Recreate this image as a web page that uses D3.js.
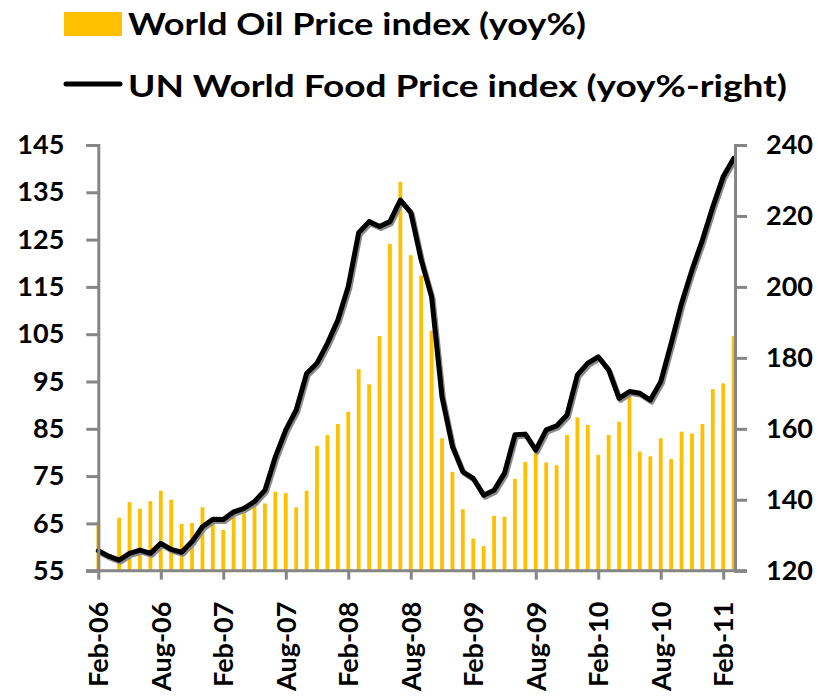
<!DOCTYPE html>
<html lang="en">
  <head>
    <meta charset="utf-8" />
    <title>Oil vs food prices</title>
    <script src="https://cdnjs.cloudflare.com/ajax/libs/d3/7.8.5/d3.min.js"></script>
    <style>
      body { margin: 0; background: #fff; }
      text { font-family: Lato, "Liberation Sans", sans-serif; font-weight: bold; fill: #000; }
    </style>
  </head>
  <body>
    <div id="chart"></div>
    <script>
    // monthly data, Feb-06 .. Mar-11
    var oilYoy = [65.4, 55, 66.2, 69.5, 68.1, 69.7, 71.9, 70.0, 64.9, 65.1, 68.4, 65.4,
                  63.6, 67.1, 67.1, 69.2, 69.2, 71.7, 71.4, 68.4, 71.9, 81.4, 83.7, 86.0,
                  88.6, 97.6, 94.4, 104.6, 124.1, 137.2, 121.7, 117.4, 105.7, 83.0, 75.9, 68.0,
                  61.8, 60.2, 66.6, 66.4, 74.4, 78.0, 79.9, 77.9, 77.3, 83.7, 87.4, 85.8,
                  79.5, 83.7, 86.5, 92.5, 80.2, 79.2, 83.0, 78.6, 84.4, 84.0, 86.0, 93.4,
                  94.6, 104.6];
    var foodYoy = [125.6, 124.1, 123.0, 124.9, 125.8, 124.9, 127.7, 126.0, 125.2, 128.2, 132.4, 134.5,
                   134.4, 136.6, 137.6, 139.5, 142.7, 152.1, 159.7, 165.3, 175.6, 178.5, 184.1, 190.7,
                   200.1, 215.3, 218.4, 217.0, 218.4, 224.5, 221.0, 207.6, 197.2, 169.0, 155.0, 147.9,
                   146.0, 141.3, 142.7, 147.5, 158.3, 158.5, 154.0, 159.7, 160.8, 163.9, 175.2, 178.5,
                   180.3, 176.6, 168.6, 170.5, 170.0, 168.1, 173.3, 184.1, 195.4, 204.8, 213.2, 222.6,
                   231.1, 236.2];
    var xTickLabels = ["Feb-06", "Aug-06", "Feb-07", "Aug-07", "Feb-08", "Aug-08",
                       "Feb-09", "Aug-09", "Feb-10", "Aug-10", "Feb-11"];
    var leftTicks = [55, 65, 75, 85, 95, 105, 115, 125, 135, 145];
    var rightTicks = [120, 140, 160, 180, 200, 220, 240];
    var legendLabels = ["World Oil Price index (yoy%)", "UN World Food Price index (yoy%-right)"];

    var W = 818, H = 696;
    var axisGrey = "#868686", gold = "#FFC000";

    var svg = d3.select("#chart").append("svg")
        .attr("width", W)
        .attr("height", H);

    // scales
    var x = d3.scaleLinear().domain([0, 61.13]).range([98.3, 735]);
    var yL = d3.scaleLinear().domain([55, 145]).range([570.7, 145]);
    var yR = d3.scaleLinear().domain([120, 240]).range([570.7, 145]);

    // bars
    svg.append("g").selectAll("rect")
      .data(oilYoy)
      .enter().append("rect")
        .attr("x", function(d, i) { return x(i) - 1.9; })
        .attr("width", 3.8)
        .attr("y", function(d) { return yL(d); })
        .attr("height", function(d) { return yL(55) - yL(d); })
        .attr("fill", gold);

    // food line with a grey shadow
    var line = d3.line()
        .x(function(d, i) { return x(i); })
        .y(function(d) { return yR(d); });
    svg.append("path")
      .datum(foodYoy)
      .attr("d", line)
      .attr("transform", "translate(1.5,2)")
      .attr("fill", "none")
      .attr("stroke", "#8a8a8a")
      .attr("stroke-width", 5)
      .attr("stroke-linejoin", "round");
    svg.append("path")
      .datum(foodYoy)
      .attr("d", line)
      .attr("fill", "none")
      .attr("stroke", "#000")
      .attr("stroke-width", 5)
      .attr("stroke-linejoin", "round")
      .attr("stroke-linecap", "round");

    // left axis
    var gL = svg.append("g")
        .attr("transform", "translate(" + x(0) + ",0)")
        .call(d3.axisLeft(yL).tickValues(leftTicks).tickSize(12).tickPadding(22));
    // right axis
    var gR = svg.append("g")
        .attr("transform", "translate(735,0)")
        .call(d3.axisRight(yR).tickValues(rightTicks).tickSize(12).tickPadding(19));
    // bottom axis, ticks every 6 months
    var gB = svg.append("g")
        .attr("transform", "translate(0," + yL(55) + ")")
        .call(d3.axisBottom(x)
          .tickValues(d3.range(0, 61, 6))
          .tickFormat(function(d, i) { return xTickLabels[i]; })
          .tickSize(9)
          .tickPadding(0));
    svg.append("line")
      .attr("x1", 86).attr("x2", 747)
      .attr("y1", yL(55)).attr("y2", yL(55))
      .attr("stroke", axisGrey).attr("stroke-width", 3);

    [gL, gR, gB].forEach(function(g) {
      g.select(".domain").attr("stroke", axisGrey).attr("stroke-width", 3);
      g.selectAll(".tick line").attr("stroke", axisGrey).attr("stroke-width", 3);
      g.selectAll(".tick text").style("font-size", "27px").style("font-family", null);
    });
    gB.select(".domain").remove();
    gB.selectAll(".tick text")
      .attr("transform", "rotate(-90)")
      .attr("text-anchor", "end")
      .attr("x", -31)
      .attr("y", 0)
      .attr("dy", "0.35em");

    // legend
    var leg = svg.append("g");
    leg.append("rect")
      .attr("x", 64).attr("y", 12).attr("width", 58).attr("height", 24)
      .attr("fill", gold);
    leg.append("line")
      .attr("x1", 66).attr("x2", 120).attr("y1", 84).attr("y2", 84)
      .attr("stroke", "#000").attr("stroke-width", 5).attr("stroke-linecap", "round");
    leg.selectAll("text")
      .data(legendLabels)
      .enter().append("text")
        .attr("x", 128)
        .attr("y", function(d, i) { return i ? 97 : 35; })
        .attr("textLength", function(d, i) { return i ? 659 : 458; })
        .attr("lengthAdjust", "spacingAndGlyphs")
        .style("font-size", "30px")
        .text(function(d) { return d; });
    </script>
  </body>
</html>
